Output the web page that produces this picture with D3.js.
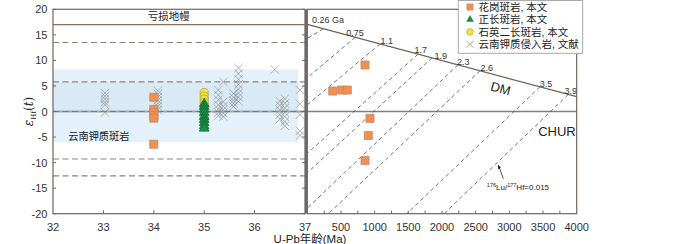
<!DOCTYPE html>
<html><head><meta charset="utf-8">
<script src="https://cdn.jsdelivr.net/npm/d3@7"></script>
<style>body{margin:0;background:#fff}svg{display:block}</style>
</head><body>
<svg id="c" width="700" height="244"></svg>
<script>
// ---------- DATA ----------
const leftAgeTicks = [32, 33, 34, 35, 36, 37];
const rightAgeTicks = [500, 1000, 1500, 2000, 2500, 3000, 3500, 4000];
const epsTicks = [-20, -15, -10, -5, 0, 5, 10, 15, 20];
// reference lines on left panel
const depletedMantleEps = 17;
const dashedRefEps = [13.5, 5.8, -9.3, -12.6];
const bandEps = [8.2, -6.0];       // 云南钾质斑岩 range
const bandInnerEps = [5.8, 0];
// literature data (云南钾质侵入岩, 文献): [age, eps]
const litAges = [33.03, 34.08, 35.28, 35.38, 35.58, 35.68, 36.4, 36.5, 36.6, 36.9];
const litEps = [
  [3.6, 3.0, 2.4, 1.8, 1.3, -0.2],
  [4.1, 3.4, 2.8, 2.2, 1.6, 1.0, 0.3],
  [4.2, 3.2, 2.3, 1.3, 0.5, -0.2, -0.8],
  [5.8, 1.9, 1.0, 0.3, -0.3, -1.0],
  [3.5, 2.8, 2.2, 1.6, 1.0],
  [8.5, 7.4, 6.3, 5.3, 4.4, 3.6, 2.8, 2.0],
  [8.2],
  [2.0, 1.2, 0.3, -0.6, -1.5],
  [2.5, 1.6, 0.7, -0.2, -1.0, -2.0, -2.8],
  [4.2, 1.5, -0.6, -3.8, -4.7]
];
// this study
const graniteAge = 34.0;
const graniteEps = [2.8, 0.4, -0.2, -0.8, -1.3, -6.4];
const monzoniteAge = 35.0;   // 石英二长斑岩
const monzoniteEps = [3.7, 3.0, 2.4, 1.8, 1.2, 0.4, -1.0, -1.6];
const syeniteAge = 35.0;     // 正长斑岩
const syeniteEps = [1.5, 1.0, 0.4, -0.2, -1.0, -1.6, -2.2, -2.8, -3.3];
// right panel: granite porphyry Hf model data (t Ma, eps)
const rightT = [857, 377, 510, 594, 931, 906, 857];
const rightEps = [9.1, 4.0, 4.2, 4.2, -1.35, -4.7, -9.6];
// DM line end points [t, eps]
const dmLine = [[0, 17.05], [4000, 2.9]];
// crustal evolution lines (176Lu/177Hf=0.015)
const modelStart = [240, 713, 1080, 1645, 1852, 2237, 2565, 3455, 3875];
const modelEndT = [0, 0, 0, 0, 0, 0, 312, 1476, 2030];
const modelEndEps = [14.3, 6.6, 1.3, -8.2, -12.0, -18.9, -20, -20, -20];
const modelLabels = ["0.26 Ga", "0.75", "1.1", "1.7", "1.9", "2.3", "2.6", "3.5", "3.9"];
const modelLabelT = [70, 708, 1179, 1684, 1981, 2316, 2664, 3544, 3911];
const legendItems = ["花岗斑岩, 本文", "正长斑岩, 本文", "石英二长斑岩, 本文", "云南钾质侵入岩, 文献"];

// ---------- CHART ----------
const svg = d3.select("#c");
const NUM = "'Liberation Sans', Arial, sans-serif";
const CJK = "'Liberation Sans', 'Noto Sans CJK SC', sans-serif";
const frameC = "#6f6661";
const xL = d3.scaleLinear().domain([32, 37]).range([53, 305]);
const xR = d3.scaleLinear().domain([0, 4000]).range([307.3, 576.7]);
const y = d3.scaleLinear().domain([-20, 20]).range([213.7, 9.3]);
const dm = t => dmLine[0][1] + (dmLine[1][1] - dmLine[0][1]) * (t - dmLine[0][0]) / (dmLine[1][0] - dmLine[0][0]);

// ----- left panel -----
const L = svg.append("g");
L.append("rect").attr("x", xL(32)).attr("width", xL(36.87) - xL(32))
  .attr("y", y(bandEps[0])).attr("height", y(bandEps[1]) - y(bandEps[0])).attr("fill", "#e5f1fa");
L.append("rect").attr("x", xL(32)).attr("width", xL(36.87) - xL(32))
  .attr("y", y(bandInnerEps[0])).attr("height", y(bandInnerEps[1]) - y(bandInnerEps[0])).attr("fill", "#d9eaf6");

L.selectAll(".dref").data(dashedRefEps).join("line")
  .attr("x1", xL(32)).attr("x2", xL(37)).attr("y1", d => y(d)).attr("y2", d => y(d))
  .attr("stroke", "#8d837d").attr("stroke-width", 1.1).attr("stroke-dasharray", "6,3.5");
L.append("line").attr("x1", xL(32)).attr("x2", xL(37))
  .attr("y1", y(depletedMantleEps)).attr("y2", y(depletedMantleEps))
  .attr("stroke", "#8a6e60").attr("stroke-width", 1.1);
L.append("line").attr("x1", xL(32)).attr("x2", xL(37)).attr("y1", y(0)).attr("y2", y(0))
  .attr("stroke", "#a3a8ae").attr("stroke-width", 2.2);
L.append("line").attr("x1", xL(32)).attr("x2", xL(37)).attr("y1", y(0)).attr("y2", y(0))
  .attr("stroke", "#767676").attr("stroke-width", 0.9).attr("stroke-dasharray", "6,3.5");

L.append("text").attr("x", 168.7).attr("y", y(depletedMantleEps) - 4.5).attr("text-anchor", "middle")
  .attr("font-family", CJK).attr("font-size", 10.5).attr("fill", "#222").text("亏损地幔");
L.append("text").attr("x", 68.3).attr("y", y(-4.8)).attr("dominant-baseline", "central")
  .attr("font-family", CJK).attr("font-size", 10.2).attr("fill", "#222").text("云南钾质斑岩");

// crosses
const litPts = [];
litAges.forEach((a, i) => litEps[i].forEach(e => litPts.push([a, e])));
const crossPath = (s) => `M${-s},${-s}L${s},${s}M${-s},${s}L${s},${-s}`;
L.selectAll(".lit").data(litPts).join("path")
  .attr("transform", d => `translate(${xL(d[0])},${y(d[1])})`)
  .attr("d", crossPath(4.2)).attr("stroke", "#8e8e8e").attr("stroke-width", 1)
  .attr("stroke-opacity", 0.65).attr("fill", "none");

const sq = d3.symbol().type(d3.symbolSquare).size(66);
const tri = d3.symbol().type(d3.symbolTriangle).size(42);
L.selectAll(".gr").data(graniteEps).join("path")
  .attr("transform", d => `translate(${xL(graniteAge)},${y(d)})`).attr("d", sq)
  .attr("fill", "#f28f4f").attr("stroke", "#b48a70").attr("stroke-width", 0.7);
L.selectAll(".mz").data(monzoniteEps).join("circle")
  .attr("cx", xL(monzoniteAge)).attr("cy", d => y(d)).attr("r", 4.1)
  .attr("fill", "#f7e43c").attr("stroke", "#9a8b3a").attr("stroke-width", 0.6);
L.selectAll(".sy").data(syeniteEps).join("path")
  .attr("transform", d => `translate(${xL(syeniteAge)},${y(d)})`).attr("d", tri)
  .attr("fill", "#15924a").attr("stroke", "#0c5a2c").attr("stroke-width", 0.6);

// left frame & ticks
L.append("rect").attr("x", xL(32)).attr("y", y(20)).attr("width", xL(37) - xL(32)).attr("height", y(-20) - y(20))
  .attr("fill", "none").attr("stroke", frameC).attr("stroke-width", 1.2);
L.selectAll(".yt").data(epsTicks).join("line")
  .attr("x1", xL(32)).attr("x2", xL(32) + 3).attr("y1", d => y(d)).attr("y2", d => y(d))
  .attr("stroke", frameC);
L.selectAll(".yt2").data(epsTicks).join("line")
  .attr("x1", xL(37)).attr("x2", xL(37) - 3).attr("y1", d => y(d)).attr("y2", d => y(d))
  .attr("stroke", frameC);
L.selectAll(".xt").data(leftAgeTicks.slice(1, -1)).join("line")
  .attr("x1", d => xL(d)).attr("x2", d => xL(d)).attr("y1", y(-20)).attr("y2", y(-20) - 3.5)
  .attr("stroke", frameC);
L.selectAll(".ytl").data(epsTicks).join("text")
  .attr("x", 47.5).attr("y", d => y(d)).attr("dominant-baseline", "central").attr("text-anchor", "end")
  .attr("font-family", NUM).attr("font-size", 11).attr("fill", "#333").text(d => d);
L.selectAll(".xtl").data(leftAgeTicks).join("text")
  .attr("x", d => xL(d)).attr("y", 231).attr("text-anchor", "middle")
  .attr("font-family", NUM).attr("font-size", 11).attr("fill", "#333").text(d => d);

// ----- right panel -----
const R = svg.append("g");
R.append("line").attr("x1", xR(0)).attr("x2", xR(4000)).attr("y1", y(0)).attr("y2", y(0))
  .attr("stroke", "#877d78").attr("stroke-width", 1.3);
R.selectAll(".ml").data(modelStart).join("line")
  .attr("x1", d => xR(d)).attr("y1", d => y(dm(d)))
  .attr("x2", (d, i) => xR(modelEndT[i])).attr("y2", (d, i) => y(modelEndEps[i]))
  .attr("stroke", "#4a4542").attr("stroke-width", 0.75).attr("stroke-dasharray", "4,3");
R.append("line").attr("x1", xR(dmLine[0][0])).attr("y1", y(dmLine[0][1]))
  .attr("x2", xR(dmLine[1][0])).attr("y2", y(dmLine[1][1]))
  .attr("stroke", "#6e615a").attr("stroke-width", 1.2);
R.selectAll(".mlab").data(modelLabels).join("text")
  .attr("x", (d, i) => xR(modelLabelT[i]))
  .attr("y", (d, i) => y(dm(modelLabelT[i])) - (i === 0 ? 3 : 1.5))
  .attr("text-anchor", (d, i) => i === 0 ? "start" : "middle")
  .attr("font-family", NUM).attr("font-size", 9).attr("fill", "#333").text(d => d);

const ang = Math.atan2(y(dmLine[1][1]) - y(dmLine[0][1]), xR(4000) - xR(0)) * 180 / Math.PI;
R.append("text").attr("transform", `translate(${xR(2870)},${y(dm(2870) - 2.4)}) rotate(${ang})`)
  .attr("text-anchor", "middle").attr("dominant-baseline", "central")
  .attr("font-family", NUM).attr("font-size", 13).attr("fill", "#222").text("DM");
R.append("text").attr("x", xR(4000) - 1).attr("y", y(-3.9)).attr("text-anchor", "end")
  .attr("dominant-baseline", "central").attr("font-family", NUM).attr("font-size", 13)
  .attr("fill", "#222").text("CHUR");

R.selectAll(".rs").data(rightT).join("path")
  .attr("transform", (d, i) => `translate(${xR(d)},${y(rightEps[i])})`).attr("d", sq)
  .attr("fill", "#f28f4f").attr("stroke", "#b48a70").attr("stroke-width", 0.7);

// arrow + annotation
const defs = svg.append("defs");
defs.append("marker").attr("id", "ah").attr("viewBox", "0 0 10 10").attr("refX", 9).attr("refY", 5)
  .attr("markerWidth", 5).attr("markerHeight", 5).attr("orient", "auto")
  .append("path").attr("d", "M0,1L10,5L0,9z").attr("fill", "#222");
R.append("line").attr("x1", xR(2910)).attr("y1", y(-13.1)).attr("x2", xR(2836)).attr("y2", y(-10.5))
  .attr("stroke", "#222").attr("stroke-width", 0.8).attr("marker-end", "url(#ah)");
const ann = R.append("text").attr("x", xR(3128)).attr("y", y(-14.8)).attr("text-anchor", "middle")
  .attr("dominant-baseline", "central").attr("font-family", NUM).attr("font-size", 8).attr("fill", "#222");
ann.append("tspan").attr("font-size", 5.5).attr("dy", -2).text("176");
ann.append("tspan").attr("dy", 2).text("Lu/");
ann.append("tspan").attr("font-size", 5.5).attr("dy", -2).text("177");
ann.append("tspan").attr("dy", 2).text("Hf=0.015");

// right frame & ticks
R.append("rect").attr("x", xR(0)).attr("y", y(20)).attr("width", xR(4000) - xR(0)).attr("height", y(-20) - y(20))
  .attr("fill", "none").attr("stroke", frameC).attr("stroke-width", 1.2);
R.append("line").attr("x1", (xL(37) + xR(0)) / 2).attr("x2", (xL(37) + xR(0)) / 2)
  .attr("y1", y(20)).attr("y2", y(-20)).attr("stroke", "#6a6a6a").attr("stroke-width", 2.4);
R.selectAll(".rxt").data(d3.range(250, 4000, 250)).join("line")
  .attr("x1", d => xR(d)).attr("x2", d => xR(d)).attr("y1", y(-20)).attr("y2", y(-20) - 3)
  .attr("stroke", frameC);
R.selectAll(".rxtl").data(rightAgeTicks).join("text")
  .attr("x", d => xR(d)).attr("y", 231).attr("text-anchor", "middle")
  .attr("font-family", NUM).attr("font-size", 11).attr("fill", "#333").text(d => d);

// axis titles
svg.append("text").attr("x", 310).attr("y", 242.5).attr("text-anchor", "middle")
  .attr("font-family", CJK).attr("font-size", 11.5).attr("fill", "#222").text("U-Pb年龄(Ma)");
const yt = svg.append("text").attr("transform", `translate(33,${y(0)}) rotate(-90)`)
  .attr("text-anchor", "middle").attr("font-family", "'DejaVu Serif', serif").attr("font-size", 12).attr("fill", "#222");
yt.append("tspan").attr("font-style", "italic").text("ε");
yt.append("tspan").attr("font-size", 7).attr("dy", 3).text("Hf");
yt.append("tspan").attr("dy", -3).text("(");
yt.append("tspan").attr("font-style", "italic").text("t");
yt.append("tspan").text(")");

// legend
const lg = svg.append("g");
lg.append("rect").attr("x", 458.3).attr("y", 0.5).attr("width", 124.4).attr("height", 52.8)
  .attr("fill", "#fff").attr("stroke", "#a9a9a9").attr("stroke-width", 1);
const rowY = d3.scaleLinear().domain([0, 3]).range([7, 44.3]);
lg.selectAll(".lt").data(legendItems).join("text")
  .attr("x", 478.5).attr("y", (d, i) => rowY(i)).attr("dominant-baseline", "central")
  .attr("font-family", CJK).attr("font-size", 10.5).attr("fill", "#222").text(d => d);
lg.append("path").attr("transform", `translate(470,${rowY(0)})`).attr("d", d3.symbol().type(d3.symbolSquare).size(40))
  .attr("fill", "#f28f4f").attr("stroke", "#b48a70").attr("stroke-width", 0.5);
lg.append("path").attr("transform", `translate(470,${rowY(1)})`).attr("d", d3.symbol().type(d3.symbolTriangle).size(26))
  .attr("fill", "#15924a");
lg.append("circle").attr("cx", 470).attr("cy", rowY(2)).attr("r", 3.3)
  .attr("fill", "#f7e43c").attr("stroke", "#9a8b3a").attr("stroke-width", 0.5);
lg.append("path").attr("transform", `translate(470,${rowY(3)})`).attr("d", crossPath(3.5))
  .attr("stroke", "#aaa").attr("stroke-width", 1).attr("fill", "none");
</script>
</body></html>
